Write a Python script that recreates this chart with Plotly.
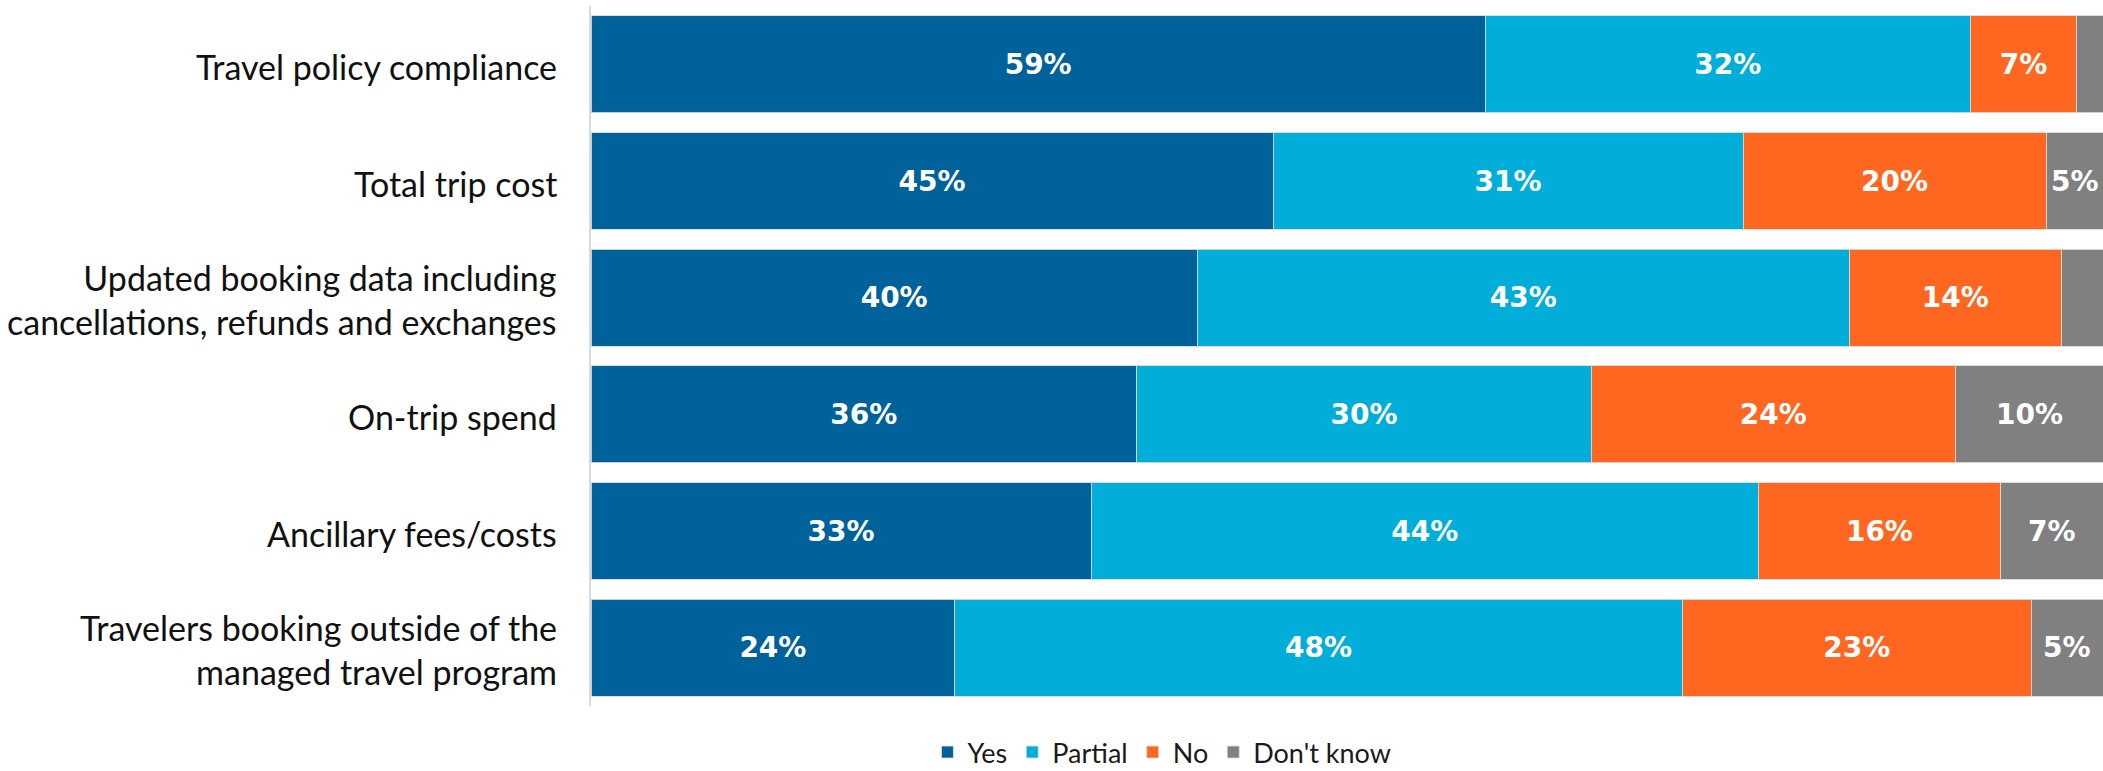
import plotly.graph_objects as go

# Survey responses per reporting area (percent of respondents)
categories = [
    "Travel policy compliance",
    "Total trip cost",
    "Updated booking data including<br>cancellations, refunds and exchanges",
    "On-trip spend",
    "Ancillary fees/costs",
    "Travelers booking outside of the<br>managed travel program",
]
yes = [59, 45, 40, 36, 33, 24]
partial = [32, 31, 43, 30, 44, 48]
no = [7, 20, 14, 24, 16, 23]
dont_know = [2, 5, 3, 10, 7, 5]
dont_know_labelled = [False, True, False, True, True, True]

series = [
    ("Yes", yes, "#00629B"),
    ("Partial", partial, "#00AED9"),
    ("No", no, "#FF6720"),
    ("Don't know", dont_know, "#808080"),
]

LABEL_FONT = "Lato"
VALUE_FONT = "DejaVu Sans"
X_MAX = 99.75
value_font = dict(family=VALUE_FONT, size=28, color="white", weight="bold")

fig = go.Figure()
for name, values, color in series:
    last = name == "Don't know"
    fig.add_trace(go.Bar(
        name=name,
        y=categories,
        x=values,
        orientation="h",
        marker=dict(color=color, line=dict(color="rgba(217,217,217,0.9)", width=1)),
        text=None if last else [f"{v}%" for v in values],
        textposition="none" if last else "inside",
        insidetextanchor="middle",
        textangle=0,
        constraintext="none",
        textfont=value_font,
        hoverinfo="skip",
    ))

# The last segment runs into the right edge: centre its label on the visible part
for cat, a, b, c, d, show in zip(categories, yes, partial, no, dont_know, dont_know_labelled):
    if not show:
        continue
    start = a + b + c
    end = min(start + d, X_MAX)
    fig.add_annotation(
        x=(start + end) / 2, y=cat, xref="x", yref="y",
        text=f"{d}%", showarrow=False, font=value_font,
    )

# Category labels, right-aligned next to the axis line
for cat in categories:
    fig.add_annotation(
        x=0, xref="paper", xanchor="right", xshift=-32,
        y=cat, yref="y", yanchor="middle", yshift=-2,
        text=cat, align="right", showarrow=False,
        font=dict(family=LABEL_FONT, size=34, color="#111111"),
    )

fig.update_layout(
    barmode="stack",
    bargap=0.169,
    width=2103,
    height=771,
    margin=dict(l=591, r=0, t=6, b=65),
    plot_bgcolor="white",
    paper_bgcolor="white",
    font=dict(family=LABEL_FONT),
    showlegend=True,
    legend=dict(
        orientation="h",
        xref="container", x=0.5525, xanchor="center",
        yref="container", y=0.024, yanchor="middle",
        font=dict(family=LABEL_FONT, size=27, color="#1a1a1a"),
        traceorder="normal",
        itemclick=False,
    ),
    xaxis=dict(range=[0, X_MAX], visible=False, fixedrange=True),
    yaxis=dict(
        autorange="reversed",
        showticklabels=False,
        ticks="",
        showgrid=False,
        zeroline=False,
        showline=True,
        linecolor="#d9d9d9",
        linewidth=2,
        fixedrange=True,
    ),
)

fig.write_html("out.html")
